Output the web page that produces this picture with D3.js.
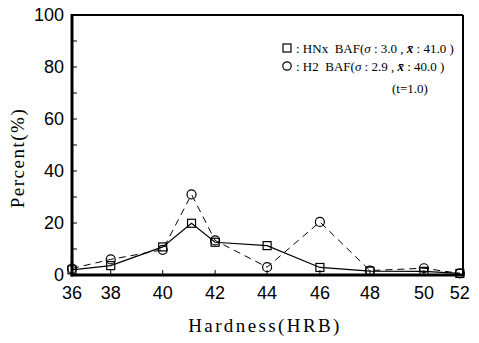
<!DOCTYPE html>
<html>
<head>
<meta charset="utf-8">
<script src="https://cdn.jsdelivr.net/npm/d3@7"></script>
<style>
  body { margin: 0; background: #fff; }
  svg { display: block; }
</style>
</head>
<body>
<div id="chart"></div>
<script>
// hardness (HRB) of each sampled point
const hardness = [36, 38, 40, 41.1, 42, 44, 46, 48, 50, 52];
// HNx BAF, percent (squares, solid line)
const hnxPercent = [2, 3.6, 10.8, 19.9, 12.6, 11.3, 2.9, 1.5, 1.4, 0.6];
// H2 BAF, percent (circles, dashed line)
const h2Percent = [2.5, 6, 9.7, 31, 13.3, 3, 20.4, 1.7, 2.6, 0.6];

const xTicks = [36, 38, 40, 42, 44, 46, 48, 50, 52];
const yTicks = [0, 20, 40, 60, 80, 100];
const yMinorTicks = [10, 30, 50, 70, 90];

const width = 479, height = 343;
const margin = { top: 15, right: 16, bottom: 68, left: 72 };
const innerW = width - margin.left - margin.right;
const innerH = height - margin.top - margin.bottom;

// the printed axis is not evenly spaced, so map each tick to where it sits
const xAxisStretch = [0, 0.099, 0.232, 0.366, 0.499, 0.634, 0.762, 0.9, 0.992];

const x = d3.scaleLinear()
  .domain(xTicks)
  .range(xAxisStretch.map(f => f * innerW));

const y = d3.scaleLinear()
  .domain([0, 100])
  .range([innerH, 0]);

const svg = d3.select('#chart')
  .append('svg')
  .attr('width', width)
  .attr('height', height);

const g = svg.append('g')
  .attr('transform', `translate(${margin.left},${margin.top})`);

// frame
g.append('line').attr('x1', 0).attr('x2', innerW).attr('y1', 0).attr('y2', 0)
  .attr('stroke', '#000').attr('stroke-width', 2);
g.append('line').attr('x1', innerW).attr('x2', innerW).attr('y1', 0).attr('y2', innerH)
  .attr('stroke', '#000').attr('stroke-width', 2);
g.append('line').attr('x1', 0).attr('x2', 0).attr('y1', -1).attr('y2', innerH + 1.5)
  .attr('stroke', '#000').attr('stroke-width', 3);
g.append('line').attr('x1', -1.5).attr('x2', innerW + 1).attr('y1', innerH).attr('y2', innerH)
  .attr('stroke', '#000').attr('stroke-width', 3);

// inward ticks
g.selectAll('.ytick')
  .data(yTicks.concat(yMinorTicks).filter(d => d > 0 && d < 100))
  .enter().append('line')
  .attr('x1', 0).attr('x2', 5)
  .attr('y1', d => y(d)).attr('y2', d => y(d))
  .attr('stroke', '#000').attr('stroke-width', 1);

g.selectAll('.xtick')
  .data(xTicks.slice(1, -1))
  .enter().append('line')
  .attr('x1', d => x(d)).attr('x2', d => x(d))
  .attr('y1', innerH).attr('y2', innerH - 5)
  .attr('stroke', '#000').attr('stroke-width', 1);

// tick labels
const tickFont = '"Liberation Sans", Arial, sans-serif';
g.selectAll('.ylabel')
  .data(yTicks)
  .enter().append('text')
  .attr('x', -8)
  .attr('y', d => y(d))
  .attr('dy', '0.35em')
  .attr('text-anchor', 'end')
  .style('font-family', tickFont)
  .style('font-size', '18px')
  .text(d => d);

g.selectAll('.xlabel')
  .data(xTicks)
  .enter().append('text')
  .attr('x', d => x(d))
  .attr('y', innerH + 24)
  .attr('text-anchor', 'middle')
  .style('font-family', tickFont)
  .style('font-size', '18px')
  .text(d => d);

// axis titles
const serif = '"Liberation Serif", "DejaVu Serif", serif';
svg.append('text')
  .attr('x', 265)
  .attr('y', 332)
  .attr('text-anchor', 'middle')
  .style('font-family', serif)
  .style('font-size', '19px')
  .style('letter-spacing', '2.4px')
  .text('Hardness(HRB)');

svg.append('text')
  .attr('transform', `translate(24,158) rotate(-90)`)
  .attr('text-anchor', 'middle')
  .style('font-family', serif)
  .style('font-size', '19px')
  .style('letter-spacing', '1.5px')
  .text('Percent(%)');

// lines
const lineOf = vals => d3.line()
  .x((d, i) => x(hardness[i]))
  .y(d => y(d))(vals);

g.append('path')
  .attr('d', lineOf(h2Percent))
  .attr('fill', 'none')
  .attr('stroke', '#000')
  .attr('stroke-width', 1)
  .attr('stroke-dasharray', '7,5');

g.append('path')
  .attr('d', lineOf(hnxPercent))
  .attr('fill', 'none')
  .attr('stroke', '#000')
  .attr('stroke-width', 1.2);

// markers
g.selectAll('.sq')
  .data(hnxPercent)
  .enter().append('rect')
  .attr('x', (d, i) => x(hardness[i]) - 4)
  .attr('y', d => y(d) - 4)
  .attr('width', 8).attr('height', 8)
  .attr('fill', 'none')
  .attr('stroke', '#000')
  .attr('stroke-width', 1.2);

g.selectAll('.ci')
  .data(h2Percent)
  .enter().append('circle')
  .attr('cx', (d, i) => x(hardness[i]))
  .attr('cy', d => y(d))
  .attr('r', 4.5)
  .attr('fill', 'none')
  .attr('stroke', '#000')
  .attr('stroke-width', 1.2);

// legend
const legend = svg.append('g')
  .style('font-family', serif)
  .style('font-size', '13px');

legend.append('rect')
  .attr('x', 283).attr('y', 44).attr('width', 8).attr('height', 8)
  .attr('fill', 'none').attr('stroke', '#000').attr('stroke-width', 1.2);
legend.append('circle')
  .attr('cx', 287).attr('cy', 66).attr('r', 4.2)
  .attr('fill', 'none').attr('stroke', '#000').attr('stroke-width', 1.2);

const legendLines = [
  { y: 53, name: 'HNx', sigma: '3.0', mean: '41.0' },
  { y: 71, name: 'H2', sigma: '2.9', mean: '40.0' }
];
legendLines.forEach(l => {
  const t = legend.append('text').attr('x', 296).attr('y', l.y).attr('xml:space', 'preserve');
  t.append('tspan').text(`: ${l.name}  BAF(`);
  t.append('tspan').style('font-style', 'italic').text('σ');
  t.append('tspan').text(` : ${l.sigma} , `);
  t.append('tspan').style('font-style', 'italic').style('font-weight', 'bold').text('x̄');
  t.append('tspan').text(` : ${l.mean} )`);
});
legend.append('text')
  .attr('x', 392).attr('y', 93)
  .text('(t=1.0)');
</script>
</body>
</html>
